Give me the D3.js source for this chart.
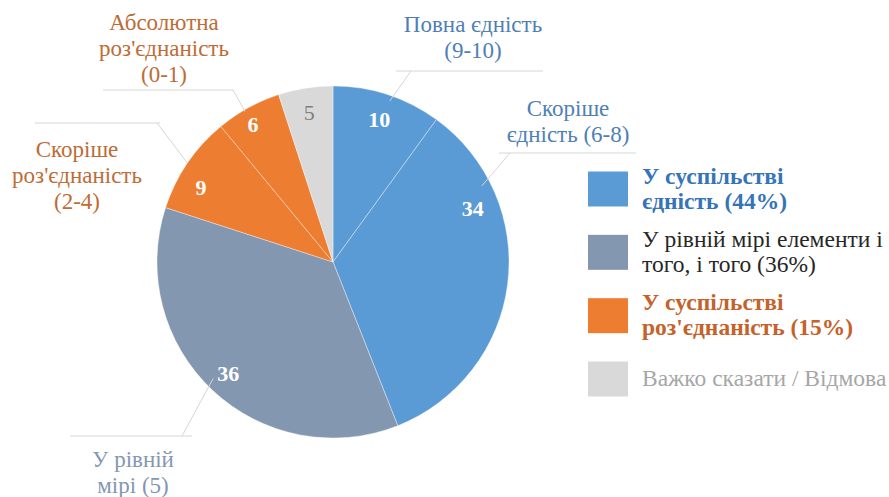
<!DOCTYPE html>
<html>
<head>
<meta charset="utf-8">
<script src="https://cdn.jsdelivr.net/npm/d3@7"></script>
<style>
  body { margin: 0; background: #fff; }
</style>
</head>
<body>
<script>
// дані
const categories = ["Повна єдність (9-10)", "Скоріше єдність (6-8)", "У рівній мірі (5)",
    "Скоріше роз'єднаність (2-4)", "Абсолютна роз'єднаність (0-1)", "Важко сказати / Відмова"];
const values = [10, 34, 36, 9, 6, 5];
const groups = ["unity", "unity", "equal", "division", "division", "hard"];
const calloutLines = [
    ["Повна єдність", "(9-10)"],
    ["Скоріше", "єдність (6-8)"],
    ["У рівній", "мірі (5)"],
    ["Скоріше", "роз'єднаність", "(2-4)"],
    ["Абсолютна", "роз'єднаність", "(0-1)"],
    null
];
const legendGroups = ["unity", "equal", "division", "hard"];
const legendLabels = [
    ["У суспільстві", "єдність (44%)"],
    ["У рівній мірі елементи і", "того, і того (36%)"],
    ["У суспільстві", "роз'єднаність (15%)"],
    ["Важко сказати / Відмова"]
];

const width = 889, height = 497;
const cx = 333, cy = 262, r = 176;
const FONT = "'Liberation Serif'";

const svg = d3.select("body").append("svg")
    .attr("width", width)
    .attr("height", height);

svg.append("rect").attr("width", width).attr("height", height).attr("fill", "#fff");

const color = d3.scaleOrdinal()
    .domain(legendGroups)
    .range(["#5B9BD5", "#8497B0", "#ED7D31", "#D9D9D9"]);

const pie = d3.pie().sort(null).value(d => d)(values);
const arc = d3.arc().innerRadius(0).outerRadius(r);

const g = svg.append("g").attr("transform", `translate(${cx},${cy})`);

g.selectAll("path")
    .data(pie)
    .join("path")
    .attr("d", arc)
    .attr("fill", (d, i) => color(groups[i]))
    .attr("stroke", "rgba(255,255,255,0.45)")
    .attr("stroke-width", 0.8);

// точка на колі за часткою кута в секторі
function pointAt(d, frac, rad) {
    const a = d.startAngle + frac * (d.endAngle - d.startAngle);
    return [rad * Math.sin(a), -rad * Math.cos(a)];
}

// підписи значень
const valueFrac = [0.5, 0.27, 0.5, 0.35, 0.43, 0.5];
const valueRad = [0.85, 0.85, 0.87, 0.86, 0.9, 0.86];
g.selectAll("text.value")
    .data(pie)
    .join("text")
    .attr("class", "value")
    .style("font-family", FONT)
    .attr("x", (d, i) => pointAt(d, valueFrac[i], r * valueRad[i])[0])
    .attr("y", (d, i) => pointAt(d, valueFrac[i], r * valueRad[i])[1] + 7)
    .attr("text-anchor", "middle")
    .attr("font-size", 22)
    .attr("font-weight", (d, i) => groups[i] === "hard" ? "normal" : "bold")
    .attr("fill", (d, i) => groups[i] === "hard" ? "#7F7F7F" : "#fff")
    .text(d => d.data);

// виноски: розташування підписів та ліній
const callouts = [
    { tx: 473, ty: 32, color: "#4F7FB4", lineY: 71, x1: 396, x2: 543, elbow: 411, frac: 0.54, rad: 0.97 },
    { tx: 568, ty: 116, color: "#4F7FB4", lineY: 153, x1: 499, x2: 636, elbow: 510, frac: 0.22, rad: 0.95 },
    { tx: 133, ty: 467, color: "#8497B0", lineY: 436, x1: 70, x2: 192, elbow: 182, frac: 0.52, rad: 0.95 },
    { tx: 77, ty: 157, color: "#BE6C36", lineY: 123, x1: 35, x2: 160, elbow: 157, frac: 0.5, rad: 1.0 },
    { tx: 164, ty: 30, color: "#BE6C36", lineY: 90, x1: 103, x2: 233, elbow: 233, frac: 0.43, rad: 0.99 }
];

const lines = svg.append("g")
    .attr("fill", "none")
    .attr("stroke", "#D6D6D6")
    .attr("stroke-width", 1);

callouts.forEach((c, i) => {
    const p = pointAt(pie[i], c.frac, r * c.rad);
    lines.append("line")
        .attr("x1", c.x1).attr("x2", c.x2)
        .attr("y1", c.lineY).attr("y2", c.lineY);
    lines.append("line")
        .attr("x1", c.elbow).attr("y1", c.lineY)
        .attr("x2", cx + p[0]).attr("y2", cy + p[1]);

    calloutLines[i].forEach((t, j) => {
        svg.append("text")
            .style("font-family", FONT)
            .attr("x", c.tx)
            .attr("y", c.ty + j * 26)
            .attr("text-anchor", "middle")
            .attr("font-size", 23)
            .attr("fill", c.color)
            .text(t);
    });
});

// легенда
const ly = d3.scalePoint().domain(legendGroups).range([189, 379]);
const legendText = {
    unity: { fill: "#3574B8", weight: "bold" },
    equal: { fill: "#262626", weight: "normal" },
    division: { fill: "#C5622A", weight: "bold" },
    hard: { fill: "#A6A6A6", weight: "normal" }
};

const legend = svg.append("g");
legendGroups.forEach((k, i) => {
    const y = ly(k);
    legend.append("rect")
        .attr("x", 588)
        .attr("y", y - 17.5)
        .attr("width", 40)
        .attr("height", 35)
        .attr("fill", color(k));

    const n = legendLabels[i].length;
    legendLabels[i].forEach((t, j) => {
        legend.append("text")
            .style("font-family", FONT)
            .attr("x", 642)
            .attr("y", y + 7 - (n - 1) * 12.5 + j * 25)
            .attr("font-size", 23.5)
            .attr("font-weight", legendText[k].weight)
            .attr("fill", legendText[k].fill)
            .text(t);
    });
});
</script>
</body>
</html>
